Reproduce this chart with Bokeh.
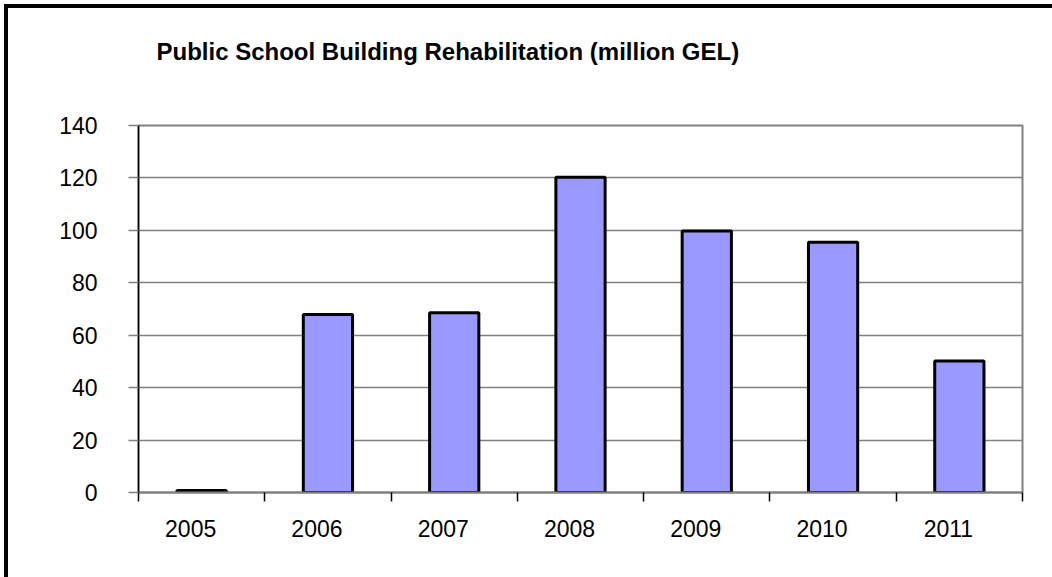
from bokeh.plotting import figure
from bokeh.models import Range1d, FixedTicker, ColumnDataSource, Title
from bokeh.embed import file_html
from bokeh.resources import INLINE

# ---- data ----
years = ["2005", "2006", "2007", "2008", "2009", "2010", "2011"]
values = [0.8, 67.9, 68.6, 120.3, 99.8, 95.5, 50.2]
y_ticks = [0, 20, 40, 60, 80, 100, 120, 140]
title_text = "Public School Building Rehabilitation (million GEL)"

FONT = "Liberation Sans"
n = len(years)
centers = [i + 0.5 for i in range(n)]
label_pos = [i + 0.413 for i in range(n)]

src = ColumnDataSource(dict(x=centers, top=values, year=years))

W, H = 1052, 577
p = figure(width=W, height=H, output_backend="svg", toolbar_location=None,
           x_range=Range1d(0, n), y_range=Range1d(0, 140))
p.min_border_left = 138
p.min_border_right = 30
p.min_border_top = 125
p.min_border_bottom = 85
p.background_fill_color = "white"
p.border_fill_color = None
p.outline_line_color = "#808080"
p.outline_line_width = 2
# outer frame: only its left and top edges fall inside the picture
p.styles = {"background-color": "white",
            "box-shadow": "inset 4px 4px 0 0 white, inset 8px 8px 0 0 black"}

p.vbar(x="x", top="top", width=0.39, source=src, fill_color="#9999FF",
       line_color="black", line_width=3)

# spacer between the frame and the title
p.add_layout(Title(text=" ", text_font_size="1px", standoff=58), "above")

# title
p.title.text = title_text
p.title.text_font = FONT
p.title.text_font_size = "24px"
p.title.text_font_style = "bold"
p.title.align = "left"
p.title.offset = 18
p.title.standoff = 0
p.title.text_color = "black"

# x axis
xax = p.xaxis[0]
xax.ticker = FixedTicker(ticks=label_pos, minor_ticks=list(range(n + 1)))
xax.major_label_overrides = {pos: y for pos, y in zip(label_pos, years)}
xax.major_tick_out = 0
xax.major_tick_in = 0
xax.minor_tick_out = 9
xax.minor_tick_in = 0
xax.minor_tick_line_color = "black"
xax.minor_tick_line_width = 1.5
xax.axis_line_color = "#808080"
xax.axis_line_width = 2
xax.major_label_text_font = FONT
xax.major_label_text_font_size = "23px"
xax.major_label_text_color = "black"
xax.major_label_standoff = 18

# y axis
yax = p.yaxis[0]
yax.ticker = FixedTicker(ticks=y_ticks)
yax.major_tick_out = 10
yax.major_tick_in = 0
yax.major_tick_line_color = "#808080"
yax.major_tick_line_width = 1.5
yax.minor_tick_line_color = None
yax.axis_line_color = "black"
yax.axis_line_width = 1.5
yax.major_label_text_font = FONT
yax.major_label_text_font_size = "23px"
yax.major_label_text_color = "black"
yax.major_label_standoff = 31

p.xgrid.grid_line_color = None
p.ygrid.grid_line_color = "#808080"
p.ygrid.grid_line_width = 1.5

open("out.html", "w").write(file_html(p, INLINE))
